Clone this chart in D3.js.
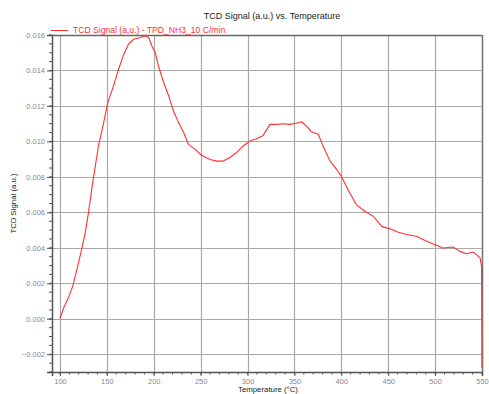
<!DOCTYPE html>
<html>
<head>
<meta charset="utf-8">
<script src="https://cdn.jsdelivr.net/npm/d3@7/dist/d3.min.js"></script>
<style>
  html, body { margin: 0; padding: 0; background: #fff; }
  svg { display: block; font-family: "Liberation Sans", Arial, sans-serif; }
</style>
</head>
<body>
<svg id="chart" width="489" height="394"></svg>
<script>
// ---- Data ----
const temperature = [100, 104, 109, 113.5, 118, 123.5, 127, 130.6, 134, 141, 146.6, 151, 157, 162.5, 168, 173, 178.5, 185.6, 191, 194.5, 198, 201.6, 205, 210.5, 216, 221, 226.5, 232, 237, 244, 251, 260, 267, 274, 281, 288, 295, 302.5, 309.7, 316.7, 323.9, 331, 338, 345, 352, 357.6, 363, 368, 375.4, 381, 388, 395, 400, 407, 416, 425, 434, 443, 452, 460.7, 469.6, 480, 491, 500, 508.6, 519, 526.4, 533.6, 540.6, 546, 548, 549.5, 549.7, 549.8, 549.9, 550];
const signal = [0.0000, 0.00062, 0.00119, 0.00183, 0.00277, 0.0040, 0.00486, 0.00606, 0.00735, 0.00974, 0.01106, 0.01219, 0.01312, 0.01407, 0.01492, 0.01548, 0.01576, 0.01586, 0.01595, 0.01586, 0.01538, 0.0150, 0.01425, 0.01332, 0.01256, 0.01171, 0.01106, 0.01049, 0.00983, 0.00955, 0.00922, 0.00898, 0.00889, 0.00889, 0.00908, 0.00936, 0.00973, 0.01002, 0.01015, 0.01034, 0.01096, 0.01096, 0.0110, 0.01096, 0.01102, 0.01111, 0.01086, 0.01055, 0.0104, 0.00968, 0.00889, 0.00842, 0.00804, 0.00729, 0.00644, 0.00606, 0.00578, 0.00521, 0.00507, 0.00488, 0.00475, 0.00465, 0.00437, 0.00418, 0.00399, 0.00405, 0.0038, 0.00367, 0.00377, 0.00352, 0.00343, 0.00296, 0.00126, 0.00013, -0.0015, -0.00277];
const xTicks = [100, 150, 200, 250, 300, 350, 400, 450, 500, 550];
const yTicks = [-0.002, 0.000, 0.002, 0.004, 0.006, 0.008, 0.010, 0.012, 0.014, 0.016];
const titleText = "TCD Signal (a.u.) vs. Temperature";
const legendText = "TCD Signal (a.u.) - TPD_NH3_10 C/min";
const xTitle = "Temperature (°C)";
const yTitle = "TCD Signal (a.u.)";

// ---- Layout ----
const mL = 52, mR = 482, mT = 35, mB = 372;
const svg = d3.select("#chart");

const x = d3.scaleLinear().domain([91.5, 550]).range([mL, mR]);
const y = d3.scaleLinear().domain([-0.003, 0.016]).range([mB, mT]);

// Grid
const grid = svg.append("g");
grid.selectAll("line.v").data(xTicks).enter().append("line")
  .attr("x1", d => Math.round(x(d)) + 0.5).attr("x2", d => Math.round(x(d)) + 0.5)
  .attr("y1", mT).attr("y2", mB)
  .attr("stroke", "#a8a8a8").attr("stroke-width", 1.2);
grid.selectAll("line.h").data(yTicks).enter().append("line")
  .attr("x1", mL).attr("x2", mR)
  .attr("y1", d => Math.round(y(d)) + 0.5).attr("y2", d => Math.round(y(d)) + 0.5)
  .attr("stroke", "#a8a8a8").attr("stroke-width", 1.2);

// Frame (top/right)
svg.append("line").attr("x1", mL).attr("x2", mR).attr("y1", mT + 0.5).attr("y2", mT + 0.5)
  .attr("stroke", "#666").attr("stroke-width", 1.5);
svg.append("line").attr("x1", mR + 0.5).attr("x2", mR + 0.5).attr("y1", mT).attr("y2", mB)
  .attr("stroke", "#777").attr("stroke-width", 1.5);

// Axes
const xMinor = d3.range(100, 551, 10);
const yMinor = d3.range(-0.003, 0.01601, 0.0005);

const xAxis = d3.axisBottom(x).tickValues(xTicks).tickFormat(d3.format("d")).tickSize(4).tickPadding(3);
const gx = svg.append("g").attr("transform", `translate(0,${mB})`).call(xAxis);
gx.select(".domain").attr("stroke", "#555").attr("stroke-width", 1.5);
gx.selectAll(".tick line").attr("stroke", "#555");
gx.selectAll("text").attr("fill", "#8a8a8a").attr("font-size", 7.5).attr("font-family", "Liberation Sans, Arial, sans-serif");
svg.append("g").selectAll("line").data(xMinor).enter().append("line")
  .attr("x1", d => x(d)).attr("x2", d => x(d)).attr("y1", mB).attr("y2", mB + 2.5)
  .attr("stroke", "#555").attr("stroke-width", 1);

const yAxis = d3.axisLeft(y).tickValues(yTicks).tickFormat(d3.format(".3f")).tickSize(5).tickPadding(2);
const gy = svg.append("g").attr("transform", `translate(${mL},0)`).call(yAxis);
gy.select(".domain").attr("stroke", "#555").attr("stroke-width", 1.5);
gy.selectAll(".tick line").attr("stroke", "#555");
gy.selectAll("text").attr("fill", "#8a8a8a").attr("font-size", 7.5).attr("font-family", "Liberation Sans, Arial, sans-serif");
svg.append("g").selectAll("line").data(yMinor).enter().append("line")
  .attr("x1", mL - 3).attr("x2", mL).attr("y1", d => y(d)).attr("y2", d => y(d))
  .attr("stroke", "#555").attr("stroke-width", 1);

// Data line
const pts = temperature.map((t, i) => [t, signal[i]]);
const line = d3.line().x(d => x(d[0])).y(d => y(d[1]));
svg.append("path").datum(pts).attr("d", line)
  .attr("fill", "none").attr("stroke", "#ff3030").attr("stroke-width", 1.1)
  .attr("stroke-linejoin", "round");

// Title
svg.append("text").attr("x", 272).attr("y", 19).attr("text-anchor", "middle")
  .attr("font-size", 9).attr("fill", "#222").text(titleText);

// Legend
svg.append("line").attr("x1", 51).attr("x2", 68).attr("y1", 30.5).attr("y2", 30.5)
  .attr("stroke", "#ff3030").attr("stroke-width", 1);
svg.append("text").attr("x", 73).attr("y", 32.5).attr("font-size", 8.6)
  .attr("fill", "#ff3030").text(legendText);

// Axis titles
svg.append("text").attr("x", 268).attr("y", 392).attr("text-anchor", "middle")
  .attr("font-size", 7.8).attr("fill", "#222").text(xTitle);
svg.append("text").attr("transform", `translate(16,${(mT + mB) / 2}) rotate(-90)`)
  .attr("text-anchor", "middle").attr("font-size", 7.8).attr("fill", "#222").text(yTitle);
</script>
</body>
</html>
